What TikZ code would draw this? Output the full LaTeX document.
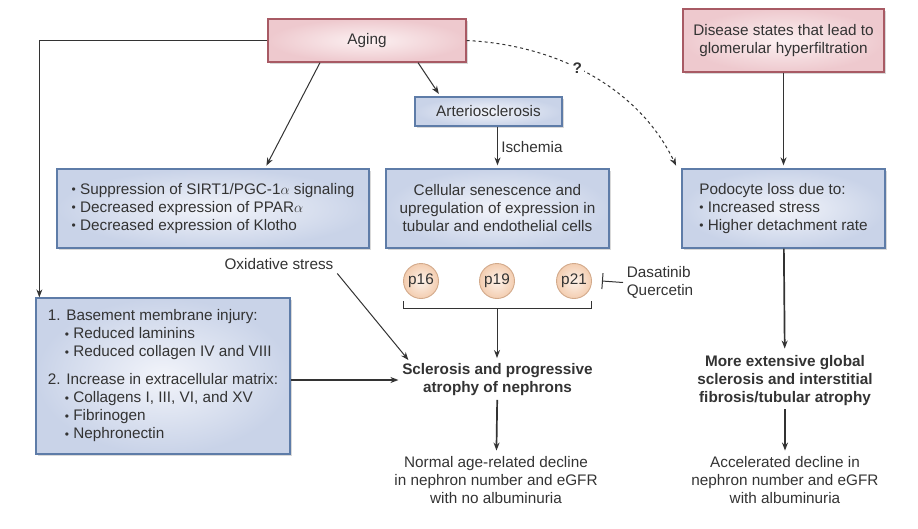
\documentclass[tikz,border=0pt]{standalone}
\usepackage{fontspec}
\setmainfont{Liberation Sans}
\usetikzlibrary{positioning,arrows.meta,shadows,calc}
\definecolor{ink}{HTML}{333333}
\definecolor{causeline}{HTML}{A85A64}
\definecolor{causein}{HTML}{FCF1F2}
\definecolor{causeout}{HTML}{EEC9CE}
\definecolor{effectline}{HTML}{5E7CA8}
\definecolor{effectin}{HTML}{F2F4FA}
\definecolor{effectout}{HTML}{C9D3E8}
\definecolor{markerline}{HTML}{D2A98A}
\definecolor{markerin}{HTML}{FDF2EA}
\definecolor{markerout}{HTML}{F3CDB0}
\newcommand{\bul}{\raisebox{0.1ex}{\fontsize{12}{12}\selectfont\textbullet}\ }
\tikzstyle{cause} = [
rectangle,
line width=1.3pt,
draw=causeline,
inner color=causein,
outer color=causeout,
drop shadow={shadow xshift=2pt,shadow yshift=-2pt,opacity=.3}
]
\tikzstyle{effect} = [
rectangle,
line width=1.3pt,
draw=effectline,
inner color=effectin,
outer color=effectout,
drop shadow={shadow xshift=2pt,shadow yshift=-2pt,opacity=.3}
]
\tikzstyle{marker} = [
circle,
line width=0.9pt,
draw=markerline,
inner color=markerin,
outer color=markerout,
minimum size=35pt,
inner sep=0pt
]
\tikzstyle{outcome} = [
align=center,
font=\fontsize{15.3}{18}\selectfont\bfseries
]
\tikzstyle{heavy} = [line width=1.7pt]

\begin{document}
\begin{tikzpicture}[
	x=1pt, y=-1pt,
	color=ink,
	line width=1pt,
	font=\fontsize{15.3}{18}\selectfont,
	>={Stealth[length=8pt,width=6pt]}
	]
	\useasboundingbox (0,0) rectangle (918,528);

	% top row
	\node[cause, minimum width=198pt, minimum height=43pt] (aging) at (367,40.5) {Aging};
	\node[cause, minimum width=201pt, minimum height=63pt, align=center] (disease) at (783.5,40.5) {Disease states that lead to\\glomerular hyperfiltration};
	\node[effect, minimum width=147pt, minimum height=29pt] (arterio) at (488.5,111.5) {Arteriosclerosis};

	% middle row
	\node[effect, minimum width=312pt, minimum height=79pt, align=left] (sirt) at (213,208.5) {\bul Suppression of SIRT1/PGC-1$\alpha$ signaling\\\bul Decreased expression of PPAR$\alpha$\\\bul Decreased expression of Klotho};
	\node[effect, minimum width=223pt, minimum height=79pt, align=center] (senes) at (497.5,208.5) {Cellular senescence and\\upregulation of expression in\\tubular and endothelial cells};
	\node[effect, minimum width=203pt, minimum height=79pt, align=left] (podo) at (783.5,208.5) {Podocyte loss due to:\\\bul Increased stress\\\bul Higher detachment rate};

	\node (oxid) at (279,264) {Oxidative stress};
	\node[marker] (p16) at (421,281) {p16};
	\node[marker] (p19) at (497,281) {p19};
	\node[marker] (p21) at (574,281) {p21};
	\node[anchor=west, align=left] (drugs) at (623,282.5) {Dasatinib\\Quercetin};

	% lower row
	\node[effect, minimum width=254pt, minimum height=156pt, align=left] (bm) at (163,376) {1. Basement membrane injury:\\\hspace*{17pt}\bul Reduced laminins\\\hspace*{17pt}\bul Reduced collagen IV and VIII\\[10pt]2. Increase in extracellular matrix:\\\hspace*{17pt}\bul Collagens I, III, VI, and XV\\\hspace*{17pt}\bul Fibrinogen\\\hspace*{17pt}\bul Nephronectin};
	\node[outcome] (scler) at (497.5,380) {Sclerosis and progressive\\atrophy of nephrons};
	\node[outcome] (global) at (785,380.5) {More extensive global\\sclerosis and interstitial\\fibrosis/tubular atrophy};
	\node[align=center] (normal) at (496,480) {Normal age-related decline\\in nephron number and eGFR\\with no albuminuria};
	\node[align=center] (accel) at (785,480) {Accelerated decline in\\nephron number and eGFR\\with albuminuria};

	% connectors
	\draw[->] (aging.west) -| ([xshift=4pt]bm.north west);
	\draw[->, shorten >=3pt] ([xshift=-47pt]aging.south) -- ([xshift=52pt]sirt.north);
	\draw[->, shorten >=3pt] ([xshift=51pt]aging.south) -- ([xshift=-48pt]arterio.north);
	\draw[->, shorten >=3pt] (arterio.south -| senes.north) -- node[right] {Ischemia} (senes.north);
	\draw[->, dashed, shorten >=3pt] (aging.east) .. controls (560,45) and (640,90) .. node[pos=.43, fill=white, inner sep=2pt, font=\fontsize{15.3}{18}\selectfont\bfseries] {?} ([xshift=-4pt]podo.north west);
	\draw[->, heavy, shorten >=3pt] (disease) -- (podo);
	\draw[->, heavy, shorten >=3pt] (podo) -- (global);
	\draw[->, heavy, shorten >=2pt] (global) -- (accel);
	\draw[->, heavy, shorten >=2pt] (scler) -- (normal);
	\draw[->, heavy] (scler.west -| bm.east) -- (scler.west);
	\draw[->] (oxid.south east) -- ([xshift=10pt]scler.north west);
	\draw ($(p16.west)+(0,20)$) -- ++(0,7) -| ($(p21.east)+(0,20)$);
	\coordinate (brk) at ($(p19)+(0,27)$);
	\draw[->, shorten >=2pt] (brk) -- (brk |- scler.north);
	\draw[-{Bar[width=16pt]}] (drugs.west) -- ([xshift=10pt]p21.east);
\end{tikzpicture}
\end{document}
